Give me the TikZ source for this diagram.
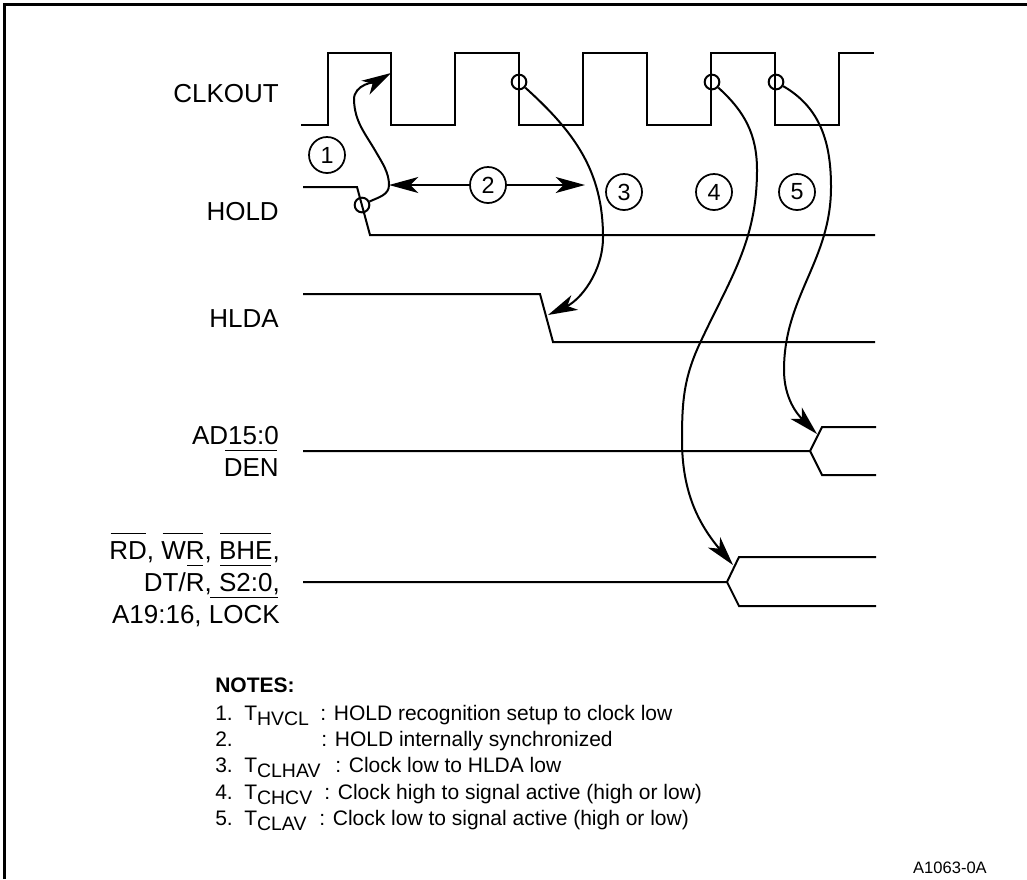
\documentclass[tikz,border=0pt]{standalone}
\usepackage{fontspec}
\setmainfont{Liberation Sans}
\usetikzlibrary{arrows.meta}
\newsavebox{\ovlbox}
\newcommand{\ovl}[1]{\sbox{\ovlbox}{#1}\rlap{\kern1pt\rule[18.7pt]{\dimexpr\wd\ovlbox-2pt\relax}{0.9pt}}\usebox{\ovlbox}}
\newcommand{\tsub}[1]{T\raisebox{-4.2pt}{\fontsize{14.6}{15}\selectfont #1}}
\begin{document}
\begin{tikzpicture}[
  x=0.75pt,
  y=-0.75pt,
  signal/.style={line width=1.5pt, line join=miter},
  marker/.style={circle, draw, line width=1.5pt, minimum size=11pt, inner sep=0pt},
  numbered/.style={circle, draw, line width=1.3pt, minimum size=27pt, inner sep=0pt, font=\fontsize{17.5}{18}\selectfont},
  siglabel/.style={anchor=base east, inner sep=0pt, font=\fontsize{19.5}{24}\selectfont},
  note/.style={anchor=base west, inner sep=0pt, font=\fontsize{15.75}{18}\selectfont},
  curve/.style={line width=1.5pt},
  timing/.style={-{Stealth[length=22pt,width=12pt,inset=6pt]}, line width=1.5pt}
]
\useasboundingbox (0,0) rectangle (1027,879);
\fill[white] (0,0) rectangle (1027,879);
\draw[line width=2.25pt] (4.5,879) -- (4.5,4.5) -- (1027,4.5);

% signal labels
\node[siglabel] (clklabel) at (279,102) {CLKOUT};
\node[siglabel] (holdlabel) at (279,220) {HOLD};
\node[siglabel] (hldalabel) at (279,327) {HLDA};
\node[siglabel] (adlabel) at (279,444) {AD15:0};
\node[siglabel] (denlabel) at (279,476) {\ovl{DEN}};
\node[siglabel] (rdlabel) at (280,559) {\ovl{RD}, \ovl{WR}, \ovl{BHE},};
\node[siglabel] (dtlabel) at (280,591) {DT/\ovl{R}, \ovl{S2:0},};
\node[siglabel] (alabel) at (280,623) {A19:16, \ovl{LOCK}};

% waveforms
\draw[signal] (301,125) -- (328,125) -- (328,53) -- (391,53) -- (391,125) -- (455,125) -- (455,53) -- (519,53) -- (519,125) -- (583,125) -- (583,53) -- (647,53) -- (647,125) -- (711,125) -- (711,53) -- (775,53) -- (775,125) -- (839,125) -- (839,53) -- (874,53);
\draw[signal] (303,187) -- (357,187) -- (370,235) -- (875,235);
\draw[signal] (303,294) -- (540,294) -- (553,342) -- (875,342);
\draw[signal] (303,451) -- (810,451) -- (822,427) -- (876,427);
\draw[signal] (810,451) -- (822,475) -- (876,475);
\draw[signal] (303,582) -- (727,582) -- (739,557) -- (876,557);
\draw[signal] (727,582) -- (739,606) -- (876,606);

% sampling points
\node[marker] (holdpt) at (362,205) {};
\node[marker] (clkthree) at (519,82) {};
\node[marker] (clkfour) at (712,82) {};
\node[marker] (clkfive) at (776,82) {};

% numbered circles
\node[numbered] (one) at (327,155) {1};
\node[numbered] (two) at (488,185) {2};
\node[numbered] (three) at (624,192) {3};
\node[numbered] (four) at (714,192) {4};
\node[numbered] (five) at (797,192) {5};

% arrow ends and way points
\coordinate (knee) at (389,185);
\coordinate (slope) at (376,152);
\coordinate (wide) at (354,100);
\coordinate (tipone) at (391,73);
\coordinate (tiptwo) at (585,185);
\coordinate (bulgethree) at (603,237);
\coordinate (tipthree) at (548,315);
\coordinate (bulgefour) at (757,170);
\coordinate (bendfour) at (700,343);
\coordinate (backfour) at (682,440);
\coordinate (tipfour) at (733,565);
\coordinate (bulgefive) at (831,187);
\coordinate (bendfive) at (784,370);
\coordinate (tipfive) at (817,434);

\draw[curve] (holdpt) to[out=25,in=-90] (knee) to[out=90,in=-60,looseness=0.9] (slope) to[out=120,in=-88] (wide);
\draw[timing] (wide) to[out=92,in=-150,looseness=0.9] (tipone);
\draw[timing] (two) -- (knee);
\draw[timing] (two) -- (tiptwo);
\draw[curve] (clkthree) to[out=-42,in=90] (bulgethree);
\draw[timing] (bulgethree) to[out=-90,in=25,looseness=0.95] (tipthree);
\draw[curve] (clkfour) to[out=-42,in=90] (bulgefour);
\draw[curve] (bulgefour) to[out=-90,in=65] (bendfour);
\draw[curve] (bendfour) to[out=-115,in=90] (backfour);
\draw[timing] (backfour) to[out=-90,in=130] (tipfour);
\draw[curve] (clkfive) to[out=-30,in=90] (bulgefive);
\draw[curve] (bulgefive) to[out=-90,in=90] (bendfive);
\draw[timing] (bendfive) to[out=-90,in=135] (tipfive);

% notes
\node[note, font=\fontsize{15.75}{18}\selectfont\bfseries] (notes) at (215,692) {NOTES:};
\node[note] (numone) at (215,720) {1.};
\node[note] (tone) at (244,720) {\tsub{HVCL}};
\node[note] (textone) at (320,720) {: HOLD recognition setup to clock low};
\node[note] (numtwo) at (215,746) {2.};
\node[note] (texttwo) at (321,746) {: HOLD internally synchronized};
\node[note] (numthree) at (215,772) {3.};
\node[note] (tthree) at (244,772) {\tsub{CLHAV}};
\node[note] (textthree) at (335,772) {: Clock low to HLDA low};
\node[note] (numfour) at (215,799) {4.};
\node[note] (tfour) at (244,799) {\tsub{CHCV}};
\node[note] (textfour) at (324,799) {: Clock high to signal active (high or low)};
\node[note] (numfive) at (215,825) {5.};
\node[note] (tfive) at (244,825) {\tsub{CLAV}};
\node[note] (textfive) at (319,825) {: Clock low to signal active (high or low)};
\node[anchor=base east, inner sep=0pt, font=\fontsize{12.4}{14}\selectfont] (figid) at (987,873) {A1063-0A};
\end{tikzpicture}
\end{document}
